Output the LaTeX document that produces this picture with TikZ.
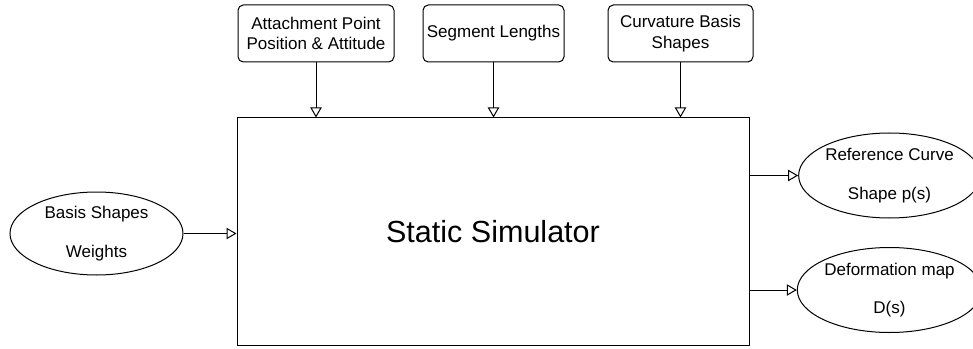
\documentclass[tikz,border=0pt]{standalone}
\usepackage{fontspec}
\setmainfont{Liberation Sans}
\usepackage{tikz}
\usetikzlibrary{arrows.meta,shapes,backgrounds}

\begin{document}
\begin{tikzpicture}[x=0.75pt,y=-0.75pt,line width=0.75pt,
    >={Triangle[open,length=7.5pt,width=8.5pt]},
    block/.style={rectangle,draw,minimum width=384pt,minimum height=170.25pt,
                  font=\fontsize{22.9}{27}\selectfont},
    param/.style={rectangle,draw,rounded corners=4pt,inner sep=0pt,align=center,
                  minimum height=42.75pt,font=\fontsize{12.75}{15.5}\selectfont},
    port/.style={ellipse,draw,inner sep=0pt,align=center,
                 font=\fontsize{12.75}{15}\selectfont}]
  \useasboundingbox (0,0) rectangle (973,349);

  % simulator block
  \node[block] (sim) at (493,231.5) {Static Simulator};

  % parameters on top
  \node[param,minimum width=117pt] (attach) at (316,33.5)
       {Attachment Point\\Position \& Attitude};
  \node[param,minimum width=105.75pt] (seglen) at (493.5,33.5) {Segment Lengths};
  \node[param,minimum width=108.75pt] (curv) at (680.5,33.5)
       {Curvature Basis\\Shapes};

  % input and outputs
  \node[port,minimum width=129.75pt,minimum height=62.25pt] (weights) at (96.5,233.5)
       {Basis Shapes\\[14pt]Weights};
  \node[port,minimum width=125.25pt,minimum height=63.75pt] (refcurve) at (889.5,175.5)
       {Reference Curve\\[14pt]Shape p(s)};
  \node[port,minimum width=125.25pt,minimum height=63.75pt] (deform) at (889.5,290)
       {Deformation map\\[14pt]D(s)};

  \path[->]
    (attach) edge (attach |- sim.north)
    (seglen) edge (seglen |- sim.north)
    (curv) edge (curv |- sim.north)
    (weights) edge (weights -| sim.west)
    (sim.east |- refcurve) edge (refcurve)
    (sim.east |- deform) edge (deform);
\end{tikzpicture}
\end{document}
